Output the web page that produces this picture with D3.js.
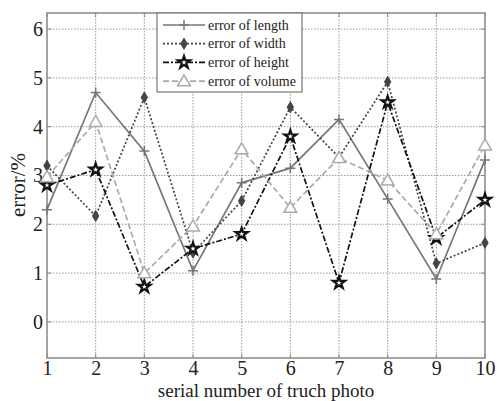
<!DOCTYPE html>
<html>
<head>
<meta charset="utf-8">
<script src="https://cdn.jsdelivr.net/npm/d3@7"></script>
<style>
  body { margin: 0; background: #fff; }
  svg { display: block; }
</style>
</head>
<body>
<script>
// chart data
let photos = [1, 2, 3, 4, 5, 6, 7, 8, 9, 10];
let lengthErr = [2.3, 4.7, 3.5, 1.05, 2.85, 3.15, 4.15, 2.52, 0.88, 3.32];
let widthErr = [3.2, 2.17, 4.6, 1.42, 2.48, 4.4, 3.37, 4.92, 1.2, 1.62];
let heightErr = [2.8, 3.12, 0.72, 1.5, 1.8, 3.8, 0.8, 4.5, 1.72, 2.5];
let volumeErr = [2.97, 4.1, 1.0, 1.96, 3.54, 2.34, 3.36, 2.9, 1.8, 3.62];
let yTicks = [0, 1, 2, 3, 4, 5, 6];
let seriesNames = ["error of length", "error of width", "error of height", "error of volume"];

let w = 497;
let h = 401;
let plotLeft = 47, plotRight = 485, plotTop = 13, plotBottom = 358;

let xScale = d3.scaleLinear().domain([1, 10]).range([plotLeft, plotRight]);
let yScale = d3.scaleLinear().domain([-0.74, 6.33]).range([plotBottom, plotTop]);

let svg = d3.select("body").append("svg").attr("width", w).attr("height", h);

let font = "'Liberation Serif', 'Times New Roman', serif";

// grid
svg.append("g")
  .selectAll("line")
  .data(yTicks)
  .enter()
  .append("line")
  .attr("x1", plotLeft).attr("x2", plotRight)
  .attr("y1", (d) => yScale(d)).attr("y2", (d) => yScale(d))
  .attr("stroke", "#999").attr("stroke-width", 1)
  .attr("stroke-dasharray", "1.5,1.5");

svg.append("g")
  .selectAll("line")
  .data(photos.slice(1, 9))
  .enter()
  .append("line")
  .attr("x1", (d) => xScale(d)).attr("x2", (d) => xScale(d))
  .attr("y1", plotTop).attr("y2", plotBottom)
  .attr("stroke", "#999").attr("stroke-width", 1)
  .attr("stroke-dasharray", "1.5,1.5");

// small inward ticks on all four sides
let tickG = svg.append("g").attr("stroke", "#888").attr("stroke-width", 1);
photos.forEach((d) => {
  tickG.append("line").attr("x1", xScale(d)).attr("x2", xScale(d)).attr("y1", plotBottom).attr("y2", plotBottom - 4);
  tickG.append("line").attr("x1", xScale(d)).attr("x2", xScale(d)).attr("y1", plotTop).attr("y2", plotTop + 4);
});
yTicks.forEach((d) => {
  tickG.append("line").attr("x1", plotLeft).attr("x2", plotLeft + 4).attr("y1", yScale(d)).attr("y2", yScale(d));
  tickG.append("line").attr("x1", plotRight).attr("x2", plotRight - 4).attr("y1", yScale(d)).attr("y2", yScale(d));
});

// axes
let xAxis = d3.axisBottom(xScale).tickValues(photos).tickSize(0).tickPadding(3).tickFormat(d3.format("d"));
let yAxis = d3.axisLeft(yScale).tickValues(yTicks).tickSize(0).tickPadding(4).tickFormat(d3.format("d"));

let gx = svg.append("g").attr("transform", "translate(0," + plotBottom + ")").call(xAxis);
let gy = svg.append("g").attr("transform", "translate(" + plotLeft + ",0)").call(yAxis);
[gx, gy].forEach((g) => {
  g.select(".domain").remove();
  g.attr("font-family", font).attr("font-size", 20);
  g.selectAll("text").attr("fill", "#222");
});

svg.append("rect")
  .attr("x", plotLeft).attr("y", plotTop)
  .attr("width", plotRight - plotLeft).attr("height", plotBottom - plotTop)
  .attr("fill", "none").attr("stroke", "#888").attr("stroke-width", 1.5);

// axis titles
svg.append("text")
  .attr("x", (plotLeft + plotRight) / 2).attr("y", 396.5)
  .attr("text-anchor", "middle")
  .attr("font-family", font).attr("font-size", "19px").attr("fill", "#222")
  .text("serial number of truch photo");

svg.append("text")
  .attr("transform", "translate(25," + 185 + ") rotate(-90)")
  .attr("text-anchor", "middle")
  .attr("font-family", font).attr("font-size", "21px").attr("fill", "#222")
  .text("error/%");

// series
let series = [
  { name: seriesNames[0], values: lengthErr, color: "#777", dash: null, width: 1.7, marker: "plus" },
  { name: seriesNames[1], values: widthErr, color: "#444", dash: "2,2", width: 1.7, marker: "diamond" },
  { name: seriesNames[2], values: heightErr, color: "#111", dash: "6,2,2,2", width: 1.7, marker: "star" },
  { name: seriesNames[3], values: volumeErr, color: "#aaa", dash: "6,3", width: 1.7, marker: "triangle" },
];

let line = d3.line()
  .x((d, i) => xScale(photos[i]))
  .y((d) => yScale(d));

function drawMarker(g, type, x, y, color) {
  if (type === "plus") {
    g.append("path")
      .attr("d", "M" + (x - 5) + "," + y + "H" + (x + 5) + "M" + x + "," + (y - 5) + "V" + (y + 5))
      .attr("stroke", color).attr("stroke-width", 1.5);
  } else if (type === "diamond") {
    g.append("path")
      .attr("d", d3.symbol(d3.symbolDiamond, 35)())
      .attr("transform", "translate(" + x + "," + y + ")")
      .attr("fill", color).attr("stroke", color);
  } else if (type === "star") {
    g.append("path")
      .attr("d", d3.symbol(d3.symbolStar, 45)())
      .attr("transform", "translate(" + x + "," + y + ")")
      .attr("fill", "#fff").attr("stroke", color).attr("stroke-width", 2.2);
  } else {
    g.append("path")
      .attr("d", d3.symbol(d3.symbolTriangle, 70)())
      .attr("transform", "translate(" + x + "," + (y + 1) + ")")
      .attr("fill", "#fff").attr("stroke", color).attr("stroke-width", 1.5);
  }
}

series.forEach((s) => {
  let g = svg.append("g");
  g.append("path")
    .datum(s.values)
    .attr("d", line)
    .attr("fill", "none")
    .attr("stroke", s.color)
    .attr("stroke-width", s.width)
    .attr("stroke-dasharray", s.dash);
  s.values.forEach((v, i) => drawMarker(g, s.marker, xScale(photos[i]), yScale(v), s.color));
});

// legend
let lg = svg.append("g");
lg.append("rect")
  .attr("x", 157).attr("y", 13)
  .attr("width", 145).attr("height", 79)
  .attr("fill", "#fff").attr("stroke", "#777").attr("stroke-width", 1.2);

series.forEach((s, i) => {
  let y = 25 + i * 18.7;
  lg.append("line")
    .attr("x1", 163).attr("x2", 205)
    .attr("y1", y).attr("y2", y)
    .attr("stroke", s.color).attr("stroke-width", s.width)
    .attr("stroke-dasharray", s.dash);
  drawMarker(lg, s.marker, 184, y, s.color);
  lg.append("text")
    .attr("x", 208).attr("y", y + 4.5)
    .attr("font-family", font).attr("font-size", "14px").attr("fill", "#222")
    .text(s.name);
});
</script>
</body>
</html>
